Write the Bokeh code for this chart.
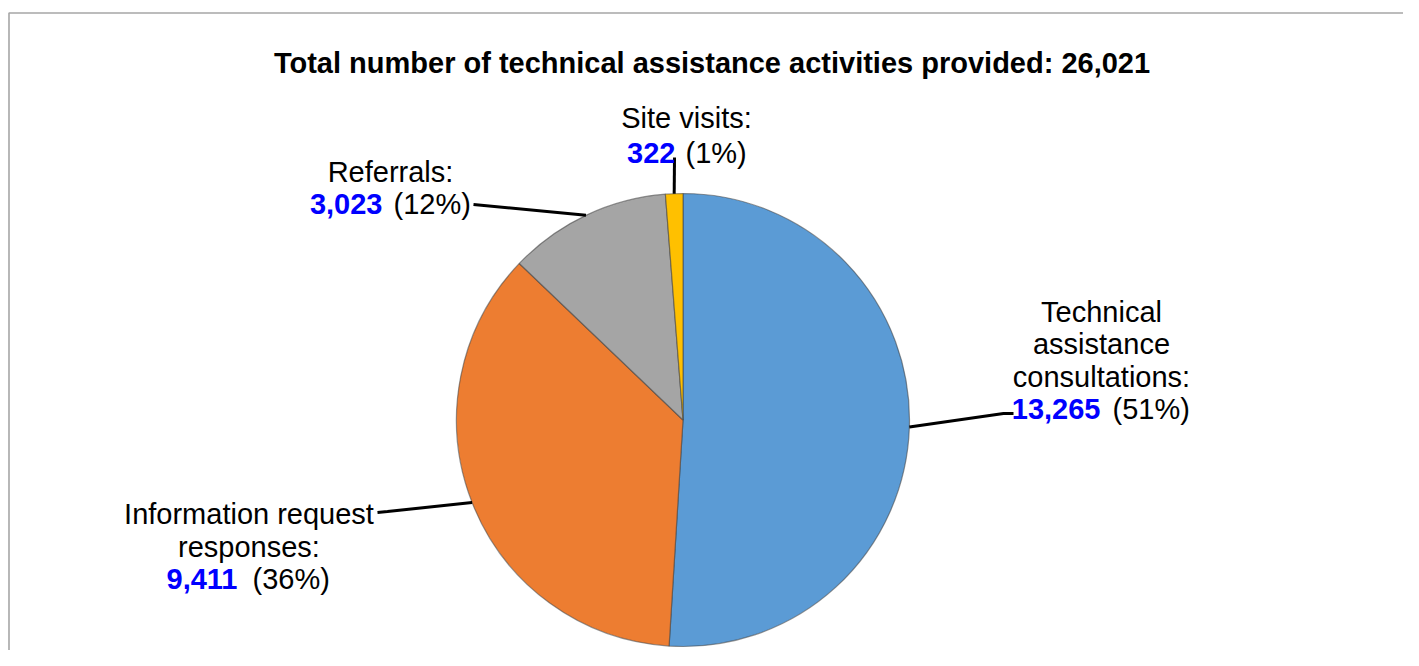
import math
from bokeh.plotting import figure
from bokeh.models import Range1d, ColumnDataSource
from bokeh.core.properties import value
from bokeh.embed import file_html
from bokeh.resources import INLINE

# ---- data ----
categories = ["Technical assistance consultations", "Information request responses",
              "Referrals", "Site visits"]
counts = [13265, 9411, 3023, 322]
colors = ["#5B9BD5", "#ED7D31", "#A5A5A5", "#FFC000"]
label_lines = [["Technical", "assistance", "consultations:"],
               ["Information request", "responses:"],
               ["Referrals:"],
               ["Site visits:"]]
title_text = "Total number of technical assistance activities provided: 26,021"

# ---- layout (pixels, origin at top-left of the picture) ----
W, H = 1403, 650
FONT = "Liberation Sans"


def dx(x):
    return x


def dy(y):
    return H - y


CX, CY, R = 682.5, 419.5, 226.5
label_cx = [1101, 248.5, 390, 686]
label_base = [[311, 343.5, 376, 408.5], [513.5, 546, 578.5], [171.5, 203.5], [117.5, 152]]
num_right = [1100, 237, 382, 675]
pct_left = [1112, 252, 393, 685]
leader_pts = [[(1003, 413), (1013, 413)],
              [(387, 511), (377, 512)],
              [(473, 204)],
              [(674, 157)]]

total = sum(counts)
fracs = [c / total for c in counts]

p = figure(width=W, height=H, output_backend="svg", toolbar_location=None,
           x_range=Range1d(0, W), y_range=Range1d(0, H), min_border=0,
           background_fill_color="white", border_fill_color="white")
p.axis.visible = False
p.xgrid.visible = False
p.ygrid.visible = False
p.outline_line_color = None

# border (top and left visible)
p.line([dx(8.5), dx(8.5), dx(W + 5)], [dy(H + 5), dy(12.5), dy(12.5)],
       line_color="#A6A6A6", line_width=1.6)

# wedges
starts, ends, mids = [], [], []
cum = 0.0
for f in fracs:
    s = math.pi / 2 - cum * 2 * math.pi
    e = s - f * 2 * math.pi
    starts.append(s)
    ends.append(e)
    mids.append((s + e) / 2)
    cum += f
src = ColumnDataSource(dict(start=starts, end=ends, color=colors))
p.wedge(x=dx(CX), y=dy(CY), radius=R, start_angle="start", end_angle="end",
        direction="clock", fill_color="color", line_color="#3F3F3F",
        line_alpha=0.55, line_width=1.2, source=src)

# leader lines from slice midpoints on the rim
for i, m in enumerate(mids):
    xs = [dx(CX + R * math.cos(m))]
    ys = [dy(CY - R * math.sin(m))]
    for (px, py) in leader_pts[i]:
        xs.append(dx(px))
        ys.append(dy(py))
    p.line(xs, ys, line_color="black", line_width=3)

# title
p.text(x=[dx(711.5)], y=[dy(62)], text=[title_text], text_font=value(FONT),
       text_font_size="29px", text_font_style="bold", text_color="black",
       text_align="center", text_baseline="alphabetic")

# labels
for i in range(len(counts)):
    lines = label_lines[i]
    bases = label_base[i]
    p.text(x=[dx(label_cx[i])] * len(lines), y=[dy(b) for b in bases[:len(lines)]],
           text=lines, text_font=value(FONT), text_font_size="29px",
           text_color="black", text_align="center", text_baseline="alphabetic")
    nb = bases[-1]
    p.text(x=[dx(num_right[i])], y=[dy(nb)], text=[f"{counts[i]:,}"],
           text_font=value(FONT), text_font_size="29px", text_font_style="bold",
           text_color="#0000FF", text_align="right", text_baseline="alphabetic")
    pct = round(fracs[i] * 100)
    p.text(x=[dx(pct_left[i])], y=[dy(nb)], text=[f"({pct}%)"],
           text_font=value(FONT), text_font_size="29px", text_color="black",
           text_align="left", text_baseline="alphabetic")

open("out.html", "w").write(file_html(p, INLINE))
